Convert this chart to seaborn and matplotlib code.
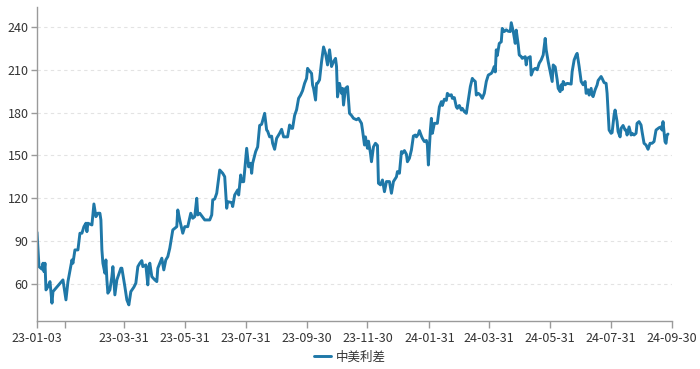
import matplotlib
matplotlib.use("Agg")
import matplotlib.pyplot as plt
import seaborn as sns
import pandas as pd

dates = [
    "2023-01-03", "2023-01-05", "2023-01-08", "2023-01-09", "2023-01-10", "2023-01-11", "2023-01-12", "2023-01-14",
    "2023-01-16", "2023-01-18", "2023-01-19", "2023-01-29", "2023-02-01", "2023-02-03", "2023-02-07", "2023-02-08",
    "2023-02-10", "2023-02-13", "2023-02-15", "2023-02-17", "2023-02-19", "2023-02-21", "2023-02-22", "2023-02-23",
    "2023-02-27", "2023-03-01", "2023-03-03", "2023-03-05", "2023-03-07", "2023-03-08", "2023-03-09", "2023-03-10",
    "2023-03-12", "2023-03-13", "2023-03-14", "2023-03-15", "2023-03-17", "2023-03-19", "2023-03-20", "2023-03-22",
    "2023-03-24", "2023-03-28", "2023-03-29", "2023-04-01", "2023-04-03", "2023-04-05", "2023-04-07", "2023-04-10",
    "2023-04-12", "2023-04-14", "2023-04-16", "2023-04-18", "2023-04-19", "2023-04-22", "2023-04-24", "2023-04-25",
    "2023-04-26", "2023-04-28", "2023-05-01", "2023-05-03", "2023-05-04", "2023-05-08", "2023-05-10", "2023-05-12",
    "2023-05-14", "2023-05-16", "2023-05-19", "2023-05-23", "2023-05-24", "2023-05-26", "2023-05-29", "2023-05-31",
    "2023-06-03", "2023-06-06", "2023-06-08", "2023-06-10", "2023-06-12", "2023-06-13", "2023-06-15", "2023-06-20",
    "2023-06-25", "2023-06-27", "2023-06-28", "2023-06-30", "2023-07-02", "2023-07-05", "2023-07-08", "2023-07-10",
    "2023-07-12", "2023-07-13", "2023-07-17", "2023-07-18", "2023-07-20", "2023-07-23", "2023-07-24", "2023-07-26",
    "2023-07-27", "2023-07-29", "2023-08-01", "2023-08-03", "2023-08-05", "2023-08-06", "2023-08-07", "2023-08-10",
    "2023-08-12", "2023-08-14", "2023-08-16", "2023-08-19", "2023-08-21", "2023-08-22", "2023-08-24", "2023-08-26",
    "2023-08-27", "2023-08-29", "2023-08-31", "2023-09-03", "2023-09-05", "2023-09-07", "2023-09-09", "2023-09-11",
    "2023-09-13", "2023-09-15", "2023-09-16", "2023-09-18", "2023-09-20", "2023-09-22", "2023-09-24", "2023-09-26",
    "2023-09-28", "2023-09-30", "2023-10-01", "2023-10-02", "2023-10-05", "2023-10-06", "2023-10-07", "2023-10-09",
    "2023-10-10", "2023-10-11", "2023-10-13", "2023-10-15", "2023-10-17", "2023-10-19", "2023-10-21", "2023-10-23",
    "2023-10-25", "2023-10-27", "2023-10-29", "2023-10-30", "2023-10-31", "2023-11-02", "2023-11-04", "2023-11-05",
    "2023-11-06", "2023-11-08", "2023-11-10", "2023-11-12", "2023-11-14", "2023-11-16", "2023-11-19", "2023-11-21",
    "2023-11-24", "2023-11-25", "2023-11-27", "2023-11-28", "2023-11-29", "2023-11-30", "2023-12-01", "2023-12-03",
    "2023-12-04", "2023-12-06", "2023-12-08", "2023-12-10", "2023-12-11", "2023-12-13", "2023-12-15", "2023-12-17",
    "2023-12-19", "2023-12-22", "2023-12-24", "2023-12-26", "2023-12-29", "2023-12-30", "2024-01-01", "2024-01-03",
    "2024-01-04", "2024-01-06", "2024-01-08", "2024-01-09", "2024-01-11", "2024-01-13", "2024-01-15", "2024-01-17",
    "2024-01-18", "2024-01-20", "2024-01-21", "2024-01-23", "2024-01-24", "2024-01-26", "2024-01-28", "2024-01-29",
    "2024-01-30", "2024-02-01", "2024-02-02", "2024-02-03", "2024-02-05", "2024-02-08", "2024-02-10", "2024-02-12",
    "2024-02-13", "2024-02-15", "2024-02-17", "2024-02-18", "2024-02-20", "2024-02-22", "2024-02-23", "2024-02-25",
    "2024-02-27", "2024-02-28", "2024-03-01", "2024-03-03", "2024-03-04", "2024-03-06", "2024-03-08", "2024-03-10",
    "2024-03-12", "2024-03-14", "2024-03-15", "2024-03-17", "2024-03-18", "2024-03-20", "2024-03-22", "2024-03-24",
    "2024-03-26", "2024-03-28", "2024-03-30", "2024-04-02", "2024-04-03", "2024-04-05", "2024-04-06", "2024-04-07",
    "2024-04-08", "2024-04-10", "2024-04-12", "2024-04-13", "2024-04-15", "2024-04-17", "2024-04-19", "2024-04-21",
    "2024-04-22", "2024-04-24", "2024-04-26", "2024-04-27", "2024-04-29", "2024-04-30", "2024-05-02", "2024-05-03",
    "2024-05-06", "2024-05-07", "2024-05-08", "2024-05-11", "2024-05-12", "2024-05-14", "2024-05-16", "2024-05-18",
    "2024-05-20", "2024-05-22", "2024-05-24", "2024-05-26", "2024-05-27", "2024-05-29", "2024-05-31", "2024-06-02",
    "2024-06-03", "2024-06-05", "2024-06-07", "2024-06-08", "2024-06-10", "2024-06-11", "2024-06-12", "2024-06-13",
    "2024-06-15", "2024-06-17", "2024-06-21", "2024-06-22", "2024-06-24", "2024-06-26", "2024-06-27", "2024-06-29",
    "2024-07-01", "2024-07-03", "2024-07-05", "2024-07-06", "2024-07-08", "2024-07-09", "2024-07-11", "2024-07-12",
    "2024-07-13", "2024-07-15", "2024-07-17", "2024-07-18", "2024-07-21", "2024-07-22", "2024-07-24", "2024-07-26",
    "2024-07-27", "2024-07-29", "2024-07-31", "2024-08-01", "2024-08-03", "2024-08-04", "2024-08-06", "2024-08-07",
    "2024-08-09", "2024-08-10", "2024-08-12", "2024-08-14", "2024-08-15", "2024-08-16", "2024-08-18", "2024-08-20",
    "2024-08-21", "2024-08-23", "2024-08-25", "2024-08-26", "2024-08-28", "2024-08-30", "2024-08-31", "2024-09-02",
    "2024-09-04", "2024-09-06", "2024-09-08", "2024-09-10", "2024-09-12", "2024-09-14", "2024-09-17", "2024-09-19",
    "2024-09-20", "2024-09-21", "2024-09-23", "2024-09-24", "2024-09-25", "2024-09-26",
]

spread = [
    96.2, 72.1, 70.3, 74.5, 68.6, 74.5, 55.8, 58.1,
    61.6, 46.5, 54.6, 62.8, 48.8, 61.6, 76.8, 74.5,
    83.8, 83.8, 95.5, 95.5, 100.1, 102.5, 96.6, 102.5,
    101.3, 116.0, 107.1, 109.5, 109.5, 104.8, 83.8, 74.5,
    67.5, 76.8, 62.8, 53.5, 55.8, 65.1, 72.1, 52.3,
    62.8, 71.0, 71.0, 58.1, 48.8, 45.3, 54.6, 57.7,
    60.5, 72.1, 74.5, 76.3, 72.1, 73.3, 59.3, 72.1,
    74.5, 65.1, 62.8, 61.6, 71.0, 78.0, 69.8, 76.8,
    79.1, 85.0, 97.8, 100.1, 111.8, 104.8, 95.5, 100.1,
    100.1, 109.5, 106.0, 107.1, 120.0, 108.3, 109.5, 104.8,
    104.8, 108.3, 118.8, 119.5, 123.5, 139.8, 137.5, 135.1,
    113.0, 117.6, 117.0, 114.2, 122.3, 125.8, 122.3, 136.3,
    131.6, 131.6, 155.0, 142.0, 144.5, 137.5, 144.5, 152.7,
    156.0, 171.0, 171.8, 179.5, 167.8, 167.0, 163.0, 163.5,
    158.5, 154.3, 162.0, 165.5, 168.3, 163.0, 163.0, 163.0,
    171.3, 169.0, 169.0, 178.0, 182.0, 190.0, 192.3, 195.4,
    200.5, 204.0, 211.0, 210.0, 207.5, 199.4, 197.0, 188.8,
    200.5, 200.5, 203.0, 215.7, 226.0, 221.4, 213.4, 224.0,
    212.3, 215.7, 218.0, 212.3, 191.0, 200.5, 193.5, 197.0,
    185.3, 197.0, 198.2, 179.5, 178.0, 176.0, 175.0, 176.0,
    172.5, 167.8, 157.3, 163.0, 158.5, 155.0, 160.0, 151.5,
    145.6, 156.0, 158.5, 157.0, 130.5, 129.4, 132.8, 124.6,
    131.7, 131.7, 123.5, 131.7, 135.0, 138.7, 137.5, 152.7,
    151.5, 153.4, 150.8, 145.6, 148.0, 153.8, 163.6, 164.3,
    163.0, 165.0, 167.4, 163.6, 162.0, 159.7, 160.5, 157.3,
    143.3, 167.8, 176.0, 165.5, 172.5, 172.5, 184.0, 187.7,
    185.0, 189.4, 188.6, 193.5, 192.0, 192.5, 190.0, 190.5,
    184.0, 183.0, 185.0, 181.8, 183.0, 180.7, 179.5, 188.8,
    198.2, 204.0, 203.0, 201.8, 192.3, 193.5, 192.3, 190.0,
    193.5, 201.8, 206.3, 207.5, 208.5, 212.3, 208.5, 224.0,
    220.0, 228.5, 229.6, 239.0, 236.8, 238.0, 237.0, 236.8,
    243.0, 236.8, 228.5, 237.8, 227.4, 220.4, 219.2, 218.0,
    219.2, 213.4, 218.0, 219.2, 206.3, 210.0, 211.0, 210.0,
    214.6, 216.9, 220.4, 232.0, 224.0, 215.7, 208.8, 201.8,
    213.4, 212.0, 203.0, 197.0, 194.7, 199.5, 196.0, 201.8,
    199.5, 200.5, 200.0, 208.8, 216.9, 220.4, 221.5, 212.3,
    201.8, 199.5, 201.8, 193.5, 196.0, 192.3, 197.0, 192.3,
    191.2, 196.0, 199.4, 202.5, 205.3, 204.0, 201.0, 200.5,
    193.5, 167.8, 165.5, 166.0, 178.4, 181.8, 173.7, 166.7,
    163.0, 169.0, 171.0, 167.8, 167.8, 164.3, 170.0, 164.3,
    165.5, 164.3, 165.5, 172.5, 173.7, 171.3, 166.7, 158.5,
    157.3, 154.3, 158.5, 158.5, 159.7, 167.8, 169.4, 170.0,
    167.8, 173.7, 159.7, 158.5, 164.3, 165.0,
]

tick_dates = ["2023-01-03", "2023-01-31", "2023-03-31", "2023-05-31", "2023-07-31", "2023-09-30",
              "2023-11-30", "2024-01-31", "2024-03-31", "2024-05-31", "2024-07-31", "2024-09-30"]
tick_labels = ["23-01-03", "", "23-03-31", "23-05-31", "23-07-31", "23-09-30",
               "23-11-30", "24-01-31", "24-03-31", "24-05-31", "24-07-31", "24-09-30"]
y_ticks = [60, 90, 120, 150, 180, 210, 240]
series_name = "中美利差"

df = pd.DataFrame({"date": pd.to_datetime(dates), "value": spread, "series": series_name})

sns.set_style("white")
plt.rcParams["font.family"] = ["Noto Sans CJK SC", "DejaVu Sans"]

fig = plt.figure(figsize=(7.0, 3.69), dpi=100)
ax = fig.add_axes([37 / 700, 1 - 321 / 369, (672 - 37) / 700, (321 - 7) / 369])

line_color = "#1f78a8"
sns.lineplot(data=df, x="date", y="value", hue="series", palette=[line_color],
             linewidth=2.1, ax=ax, legend=True)

ax.set_xlim(pd.Timestamp("2023-01-03"), pd.Timestamp("2024-09-30"))
ax.set_ylim(34, 254)
ax.set_yticks(y_ticks)
ax.set_xticks(pd.to_datetime(tick_dates))
ax.set_xticklabels(tick_labels)
ax.set_xlabel("")
ax.set_ylabel("")

ax.grid(axis="y", linestyle=(0, (3, 3)), color="#e3e3e3", linewidth=0.8)
ax.grid(axis="x", visible=False)
for side in ["top", "right"]:
    ax.spines[side].set_visible(False)
for side in ["left", "bottom"]:
    ax.spines[side].set_color("#9a9a9a")
    ax.spines[side].set_linewidth(1.0)

ax.tick_params(axis="x", which="major", length=5, width=1, color="#9a9a9a",
               labelsize=9, labelcolor="#333333", pad=3, bottom=True)
ax.tick_params(axis="y", which="major", length=4, width=1, color="#9a9a9a",
               labelsize=9, labelcolor="#333333", pad=2, left=True)

handles, labels = ax.get_legend_handles_labels()
ax.get_legend().remove()
fig.legend(handles, labels, loc="center", bbox_to_anchor=(0.5, 1 - 357 / 369),
           frameon=False, fontsize=9, handlelength=1.4, handletextpad=0.4,
           labelcolor="#333333")

fig.savefig("out.png", dpi=100)
